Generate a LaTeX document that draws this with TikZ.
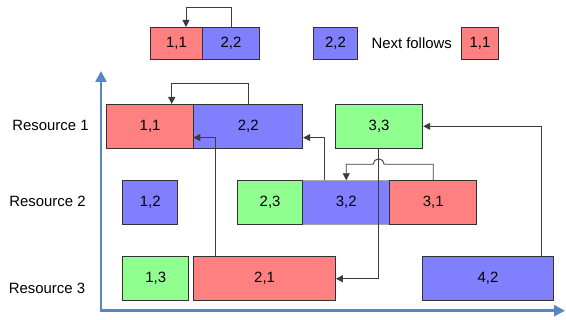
\documentclass[tikz,border=0pt]{standalone}
\usepackage{fontspec}
\setmainfont{Liberation Sans}
\usetikzlibrary{arrows.meta}
\definecolor{jobred}{RGB}{255,128,128}
\definecolor{jobblue}{RGB}{128,128,255}
\definecolor{jobgreen}{RGB}{144,255,144}
\definecolor{boxline}{RGB}{50,50,50}
\definecolor{linkgray}{RGB}{60,60,60}
\definecolor{axisblue}{RGB}{88,134,196}
\begin{document}
\begin{tikzpicture}[x=1pt,y=-1pt,
  every node/.style={font=\fontsize{14.9}{17}\selectfont},
  job/.style={draw=boxline, line width=0.9pt, inner sep=0pt, anchor=north west},
  red/.style={job, fill=jobred},
  blue/.style={job, fill=jobblue},
  green/.style={job, fill=jobgreen},
  arr/.style={draw=linkgray, line width=0.9pt, -{Triangle[width=7pt,length=7pt]}},
  axis/.style={draw=axisblue, line width=2.5pt, {Triangle[width=11pt,length=11pt]}-{Triangle[width=11pt,length=11pt]}}
]
\useasboundingbox (0,0) rectangle (566,320);

% legend
\node[red,  minimum width=52pt, minimum height=32pt] (l11) at (150,27) {1,1};
\node[blue, minimum width=57pt, minimum height=32pt] (l22) at (202,27) {2,2};
\node[blue, minimum width=44pt, minimum height=32pt] (lg22) at (313,27) {2,2};
\node (next) at (411.7,43) {Next follows};
\node[red,  minimum width=37pt, minimum height=32pt] (lg11) at (461,27) {1,1};
\draw[arr] ([xshift=29pt]l22.north west) -- ++(0,-20) -| ([xshift=36pt]l11.north west);

% axes
\draw[axis] (101,71) |- (565,310.7);

% resource labels
\node (r1) at (50.5,125) {Resource 1};
\node (r2) at (47.5,201.7) {Resource 2};
\node (r3) at (47,288.3) {Resource 3};

% resource 1
\node[red,   minimum width=87.3pt, minimum height=43.7pt] (n11) at (106,104) {1,1};
\node[blue,  minimum width=109pt,  minimum height=43.7pt] (n22) at (193.3,104) {2,2};
\node[green, minimum width=87.3pt, minimum height=43.7pt] (n33) at (335,104) {3,3};

% resource 2
\node[blue,  minimum width=55pt,   minimum height=43.4pt] (n12) at (122.3,180.3) {1,2};
\node[blue,  draw=gray!70, minimum width=87pt, minimum height=43.4pt] (n32) at (302.3,180.3) {3,2};
\node[green, minimum width=65.3pt, minimum height=43.4pt] (n23) at (237,180.3) {2,3};
\node[red,   minimum width=87pt,   minimum height=43.4pt] (n31) at (389.3,180.3) {3,1};

% resource 3
\node[green, minimum width=66pt,    minimum height=44pt] (n13) at (122.3,256.3) {1,3};
\node[red,   minimum width=141.7pt, minimum height=44pt] (n21) at (193.3,256.3) {2,1};
\node[blue,  minimum width=130.4pt, minimum height=44pt] (n42) at (422.3,256.3) {4,2};

% precedence links
\draw[arr] ([xshift=54.7pt]n22.north west) -- ++(0,-20.7) -| ([xshift=65.7pt]n11.north west);
\draw[arr] ([xshift=22pt]n21.north west) |- ([yshift=11pt]n22.south west);
\draw[arr] ([xshift=22pt]n32.north west) |- ([yshift=11pt]n22.south east);
\draw[arr] ([xshift=119.4pt]n42.north west) |- (n33.east);
\coordinate (drop) at ([xshift=43.7pt]n33.south west);
\draw[arr] (drop) |- (n21.east);
\draw[arr] (n31.north) -- ++(0,-16) coordinate (hy)
  -- ([xshift=5.5pt]drop |- hy) arc[start angle=0, end angle=180, radius=5.5pt]
  -| (n32.north);
\end{tikzpicture}
\end{document}
